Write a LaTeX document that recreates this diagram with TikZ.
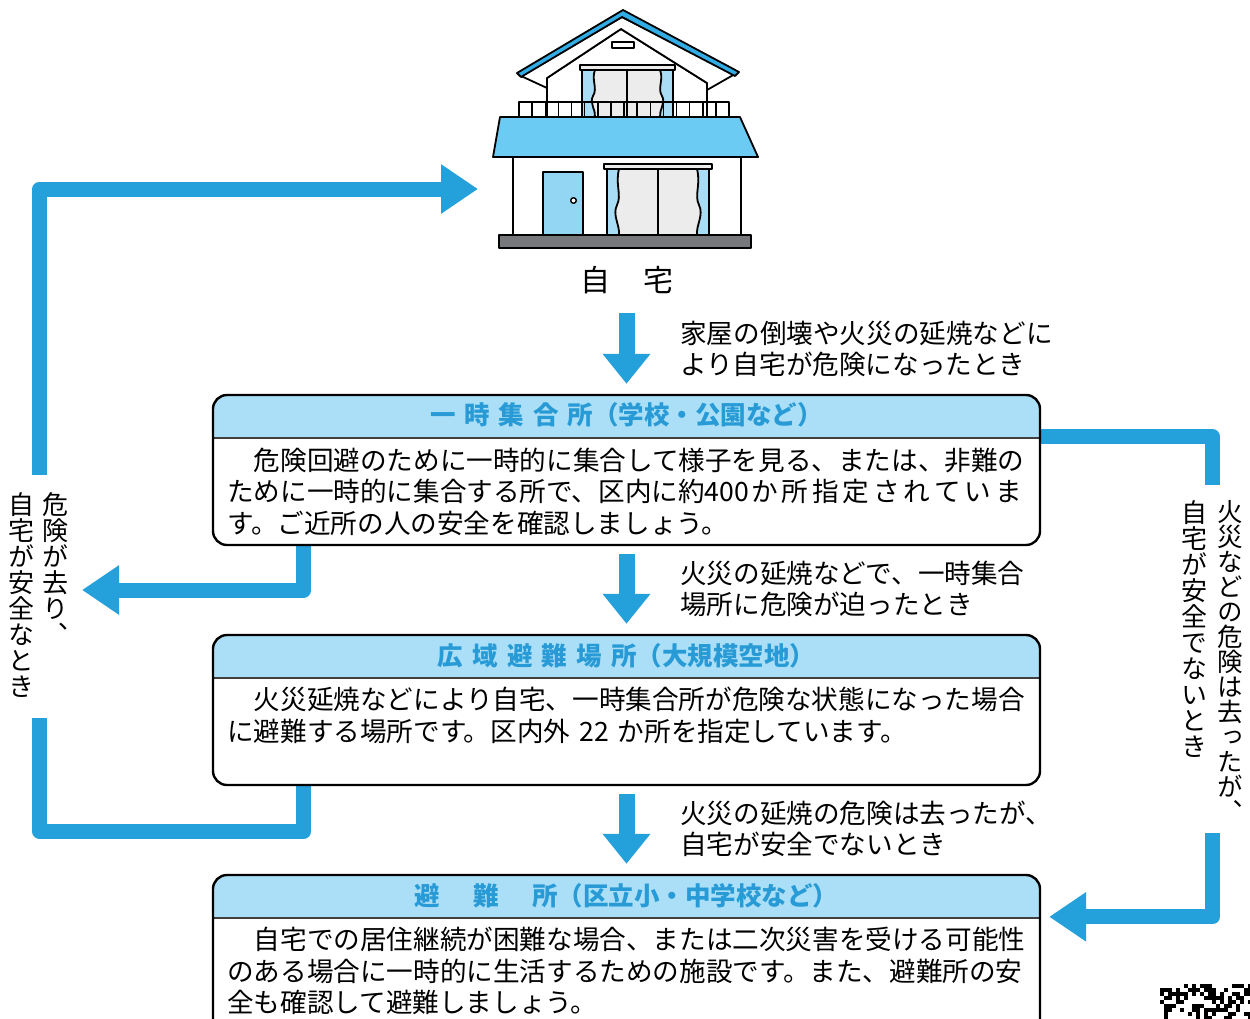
\documentclass[tikz,border=0pt]{standalone}
\usepackage{fontspec}
\setmainfont{Noto Sans CJK JP}
\newfontfamily\tatefont[RawFeature=+vert]{Noto Sans CJK JP}
\usetikzlibrary{arrows.meta, positioning}
\pgfdeclarelayer{back}
\pgfsetlayers{back,main}

\definecolor{arrowblue}{RGB}{36,160,218}
\definecolor{headfill}{RGB}{171,223,247}
\definecolor{headtext}{RGB}{40,155,214}
\definecolor{roofdark}{RGB}{50,172,228}
\definecolor{roofblue}{RGB}{108,203,242}
\definecolor{doorblue}{RGB}{146,214,243}
\definecolor{curtain}{RGB}{168,221,245}
\definecolor{glass}{RGB}{236,236,236}
\definecolor{slab}{RGB}{119,120,123}

\tikzstyle{flow}=[draw=arrowblue, line width=15pt, line join=round]
\tikzstyle{flowarrow}=[flow, -{Triangle[length=37pt, width=47pt]}]
\tikzstyle{downarrow}=[draw=arrowblue, line width=16pt, -{Triangle[length=30pt, width=46pt]}]
\tikzstyle{outline}=[draw=black, line width=1.8pt, line join=round]
\tikzstyle{sitebox}=[draw=black, line width=2.4pt, fill=white, rounded corners=14pt,
	minimum width=827pt, inner sep=0pt,
	path picture={
		\fill[headfill, sharp corners] (path picture bounding box.north west)
			rectangle ([yshift=-43pt]path picture bounding box.north east);
		\draw[black!75, line width=1.5pt, sharp corners] ([yshift=-43pt]path picture bounding box.north west)
			-- ([yshift=-43pt]path picture bounding box.north east);
	}]
\tikzstyle{sitetitle}=[text=headtext, font=\fontsize{25.5}{30}\selectfont\bfseries, inner sep=0pt]
\tikzstyle{bodytext}=[font=\fontsize{26.6}{31.5}\selectfont, align=left, inner sep=0pt, anchor=west]
\tikzstyle{tate}=[font=\tatefont\fontsize{26}{26}\selectfont, align=center, inner sep=0pt, anchor=north]

\begin{document}
\begin{tikzpicture}[x=1pt, y=-1pt]
	\useasboundingbox (0,0) rectangle (1250,1018);

	% House: slab, ground floor, door and window
	\filldraw[outline, fill=slab] (499,235) rectangle (751,248);
	\filldraw[outline, fill=white] (513,157) rectangle (741,235);
	\filldraw[outline, fill=doorblue] (543,172) rectangle (583,235);
	\filldraw[outline, fill=white, line width=1.4pt] (573.5,200.5) circle (2.8);

	\filldraw[outline, fill=glass] (607,169) rectangle (709,235);
	\filldraw[outline, fill=curtain] (607,169) -- (619,169) .. controls (615,185) and (622,195) .. (617,205)
		.. controls (612,215) and (620,225) .. (619,235) -- (607,235) -- cycle;
	\filldraw[outline, fill=curtain] (709,169) -- (697,169) .. controls (701,185) and (694,195) .. (699,205)
		.. controls (704,215) and (696,225) .. (697,235) -- (709,235) -- cycle;
	\draw[outline] (658,169) -- (658,235);
	\filldraw[outline, fill=glass] (604,164) rectangle (712,169);

	% Lower roof
	\filldraw[outline, fill=roofblue] (500,117) -- (740,117) -- (758,157) -- (493,157) -- cycle;

	% Upper storey under the gable
	\filldraw[outline, fill=white] (547,117) -- (547,78) -- (621,29) -- (707,83) -- (707,117);
	\filldraw[outline, fill=white] (521,76) -- (622,17) -- (735,74) -- (707,90) -- (707,83)
		-- (621,29) -- (547,78) -- (547,88) -- cycle;
	\filldraw[outline, fill=roofdark] (517,73) -- (623,10) -- (739,72) -- (735,76) -- (622,17) -- (521,77) -- cycle;
	\filldraw[outline, fill=white, line width=1.5pt] (612,42) rectangle (634,48);

	\filldraw[outline, fill=glass] (582,70) rectangle (673,117);
	\filldraw[outline, fill=curtain] (582,70) -- (595,70) .. controls (591,80) and (598,88) .. (593,96)
		.. controls (589,103) and (596,110) .. (595,117) -- (582,117) -- cycle;
	\filldraw[outline, fill=curtain] (673,70) -- (660,70) .. controls (664,80) and (657,88) .. (662,96)
		.. controls (666,103) and (659,110) .. (660,117) -- (673,117) -- cycle;
	\draw[outline] (627,70) -- (627,117);
	\filldraw[outline, fill=glass] (580,65) rectangle (675,70);

	% Balcony railing
	\draw[outline, line width=1.5pt] (519,102) rectangle (729,117);
	\foreach \k in {1,...,15}{ \draw[outline, line width=1.5pt] (519+13.125*\k,102) -- (519+13.125*\k,117); }

	\node[font=\fontsize{30}{30}\selectfont, inner sep=0pt] (home) at (626.5,280) {自\hspace{33pt}宅};

	% The three refuges
	\node[sitebox, minimum height=150pt] (assembly) at (626.5,470) {};
	\node[sitebox, minimum height=150pt] (wide) at (626.5,710) {};
	\node[sitebox, minimum height=165pt] (shelter) at (626.5,957.5) {};

	\node[sitetitle] (assembly-title) at ([yshift=-21.5pt]assembly.north)
		{一\hspace{9pt}時\hspace{9pt}集\hspace{9pt}合\hspace{9pt}所（学校・公園など）};
	\node[sitetitle] (wide-title) at ([yshift=-21.5pt]wide.north)
		{広\hspace{9.3pt}域\hspace{9.3pt}避\hspace{9.3pt}難\hspace{9.3pt}場\hspace{9.3pt}所（大規模空地）};
	\node[sitetitle] (shelter-title) at ([yshift=-21.5pt]shelter.north)
		{避\hspace{33.5pt}難\hspace{33.5pt}所（区立小・中学校など）};

	\node[bodytext] (assembly-text) at (227,491.5)
		{　危険回避のために一時的に集合して様子を見る、または、非難の\\ために一時的に集合する所で、区内に約400\hspace{2pt}か\hspace{3.9pt}所\hspace{3.9pt}指\hspace{3.9pt}定\hspace{3.9pt}さ\hspace{3.9pt}れ\hspace{3.9pt}て\hspace{3.9pt}い\hspace{3.9pt}ま\\す。ご近所の人の安全を確認しましょう。};
	\node[bodytext] (wide-text) at (227,715.5)
		{　火災延焼などにより自宅、一時集合所が危険な状態になった場合\\に避難する場所です。区内外\hspace{9pt}22\hspace{9pt}か所を指定しています。};
	\node[bodytext] (shelter-text) at (227,971)
		{　自宅での居住継続が困難な場合、または二次災害を受ける可能性\\のある場合に一時的に生活するための施設です。また、避難所の安\\全も確認して避難しましょう。};

	% Conditions beside the down arrows
	\node[bodytext] (note1) at (680,349) {家屋の倒壊や火災の延焼などに\\より自宅が危険になったとき};
	\node[bodytext] (note2) at (680,589) {火災の延焼などで、一時集合\\場所に危険が迫ったとき};
	\node[bodytext] (note3) at (680,829) {火災の延焼の危険は去ったが、\\自宅が安全でないとき};

	% Vertical notes on the return paths
	\node[tate] (safeA) at (55,492) {危\\険\\が\\去\\り\\、};
	\node[tate] (safeB) at (22,492) {自\\宅\\が\\安\\全\\な\\と\\き};
	\node[tate, font=\tatefont\fontsize{25.5}{25}\selectfont] (fireA) at (1230,500) {火\\災\\な\\ど\\の\\危\\険\\は\\去\\っ\\た\\が\\、};
	\node[tate] (fireB) at (1194,500) {自\\宅\\が\\安\\全\\で\\な\\い\\と\\き};

	\coordinate (homeport) at (478,189);
	\coordinate (gapTop) at (39.5,475);
	\coordinate (gapBot) at (39.5,718);
	\coordinate (backport) at (82,590);
	\coordinate (fireTop) at (1212.5,485);
	\coordinate (fireBot) at (1212.5,833);

	\begin{pgfonlayer}{back}
		\draw[downarrow, shorten <=33pt, shorten >=10pt] (home.center) -- (assembly.north);
		\draw[downarrow, shorten <=8pt, shorten >=10pt] (assembly.south) -- (wide.north);
		\draw[downarrow, shorten <=8pt, shorten >=10pt] (wide.south) -- (shelter.north);

		\draw[flowarrow] ([xshift=92pt]assembly.south west) |- (backport);
		\draw[flow] ([xshift=92pt]wide.south west) -- ++(0,45) -| (gapBot);
		\draw[flowarrow] (gapTop) |- (homeport);

		\draw[flow] ([yshift=-43pt]assembly.north east) -| (fireTop);
		\draw[flowarrow, shorten >=8pt] (fireBot) |- ([yshift=-43pt]shelter.north east);
	\end{pgfonlayer}

	% Corner of the code mark
	\pgfmathsetseed{7}
	\foreach \i in {0,...,22}{
		\foreach \j in {0,...,8}{
			\pgfmathtruncatemacro\qrbit{rnd<0.42 ? 1 : 0}
			\ifnum\qrbit=1 \fill (1160+4*\i,984+4*\j) rectangle ++(4,4); \fi
		}
	}
\end{tikzpicture}
\end{document}
